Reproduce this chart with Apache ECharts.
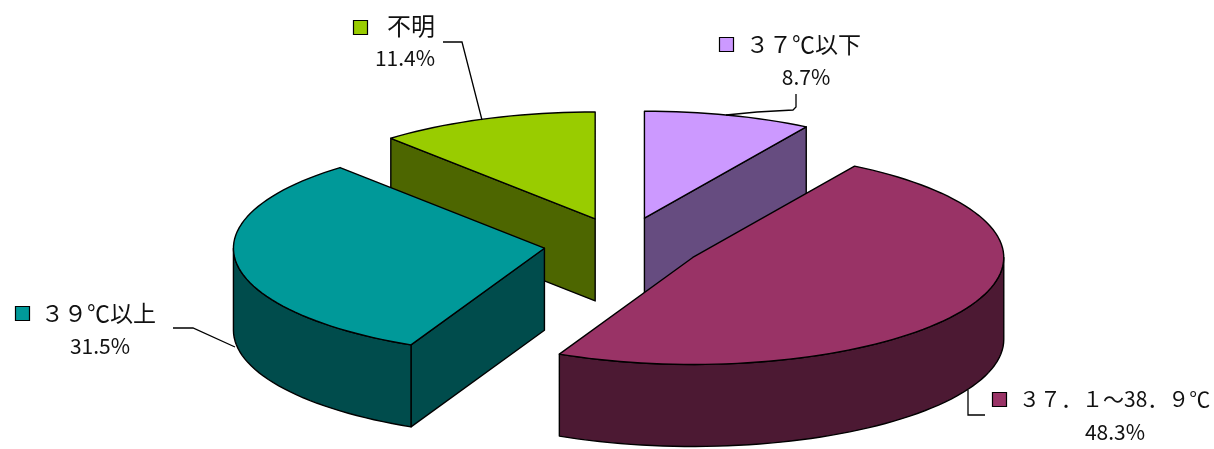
<!DOCTYPE html>
<html>
<head>
<meta charset="utf-8">
<script src="https://cdn.jsdelivr.net/npm/echarts@6/dist/echarts.min.js"></script>
<style>html,body{margin:0;padding:0;background:#fff}#c{width:1214px;height:449px}</style>
</head>
<body>
<div id="c"></div>
<script>
// data
var categories = ['３７℃以下', '３７．１～38．９℃', '３９℃以上', '不明'];
var values = [8.7, 48.3, 31.5, 11.4];
var topColors = ['#CC99FF', '#993366', '#009999', '#99CC00'];
var sideColors = ['#664C80', '#4C1933', '#004C4C', '#4D6600'];

// layout of the tilted pie
var CX = 623, CY = 244.5, RX = 311, RY = 107, DEPTH = 82, EXPLODE = 0.255;
var FONT = '"Noto Sans CJK JP","DejaVu Sans",sans-serif';

// label layout, same order as categories
var nameSizes = [23, 21, 23, 24];
var nameX = [746, 1019, 41, 387];
var nameY = [44, 399, 313, 26];
var keyBox = [[719, 37], [992, 392], [15, 306], [353, 20]];
var pctPos = [[806, 77], [1115, 432], [100, 346], [405, 58]];
var leaders = [
  [[726, 115], [757, 112], [793, 110], [796, 107], [796, 94]],
  [[968, 390], [968, 415], [985, 415]],
  [[173, 328], [193, 328], [235, 347]],
  [[443, 42], [462, 42], [482, 120]]
];

var total = values.reduce(function (a, b) { return a + b; }, 0);

function rimPoint(c, deg, dy) {
  var t = deg * Math.PI / 180;
  return [c[0] + RX * Math.sin(t), c[1] - RY * Math.cos(t) + (dy || 0)];
}
function arcPoints(c, a, b, dy) {
  var pts = [], n = Math.max(2, Math.ceil(Math.abs(b - a) / 2));
  for (var i = 0; i <= n; i++) pts.push(rimPoint(c, a + (b - a) * i / n, dy));
  return pts;
}

function renderItem(params, api) {
  var idx = params.dataIndex, start = 0;
  for (var i = 0; i < idx; i++) start += values[i] / total * 360;
  var v = api.value(0), end = start + v / total * 360, mid = (start + end) / 2 * Math.PI / 180;
  var c = [CX + RX * EXPLODE * Math.sin(mid), CY - RY * EXPLODE * Math.cos(mid)];
  var base = Math.round(c[1]) * 10;
  function poly(points, fill, order) {
    return { type: 'polygon', z2: base + order, shape: { points: points },
      style: { fill: fill, stroke: '#000', lineWidth: 1.4, lineJoin: 'round' } };
  }
  function wall(angle) {
    var p = rimPoint(c, angle);
    return [c, p, [p[0], p[1] + DEPTH], [c[0], c[1] + DEPTH]];
  }
  var children = [];
  // only the cut faces turned towards the viewer are drawn
  if (Math.sin(start * Math.PI / 180) < -1e-6) children.push(poly(wall(start), sideColors[idx], 0));
  if (Math.sin(end * Math.PI / 180) > 1e-6) children.push(poly(wall(end), sideColors[idx], 1));
  var a = Math.max(start, 90), b = Math.min(end, 270);
  if (b > a) {
    children.push(poly(arcPoints(c, a, b, 0).concat(arcPoints(c, b, a, DEPTH)), sideColors[idx], 2));
  }
  children.push(poly([c].concat(arcPoints(c, start, end, 0)), topColors[idx], 3));

  // annotations
  children.push({ type: 'polyline', z2: 9000, shape: { points: leaders[idx] },
    style: { stroke: '#000', lineWidth: 1.3, fill: null } });
  children.push({ type: 'rect', z2: 9000, shape: { x: keyBox[idx][0] + 0.5, y: keyBox[idx][1] + 0.5, width: 14, height: 14 },
    style: { fill: topColors[idx], stroke: '#000', lineWidth: 1.2 } });
  children.push({ type: 'text', z2: 9000,
    style: { x: nameX[idx], y: nameY[idx], text: categories[idx], fill: '#111', fontFamily: FONT,
      fontSize: nameSizes[idx], textAlign: 'left', textVerticalAlign: 'middle' } });
  children.push({ type: 'text', z2: 9000,
    style: { x: pctPos[idx][0], y: pctPos[idx][1], text: v.toFixed(1) + '%', fill: '#111', fontFamily: FONT,
      fontSize: 21, textAlign: 'center', textVerticalAlign: 'middle' } });
  return { type: 'group', children: children };
}

var chart = echarts.init(document.getElementById('c'), null, { renderer: 'canvas' });
chart.setOption({
  backgroundColor: '#fff',
  animation: false,
  series: [{
    type: 'custom',
    coordinateSystem: 'none',
    silent: true,
    renderItem: renderItem,
    data: values.map(function (v, i) { return { name: categories[i], value: [v] }; })
  }]
});
</script>
</body>
</html>
